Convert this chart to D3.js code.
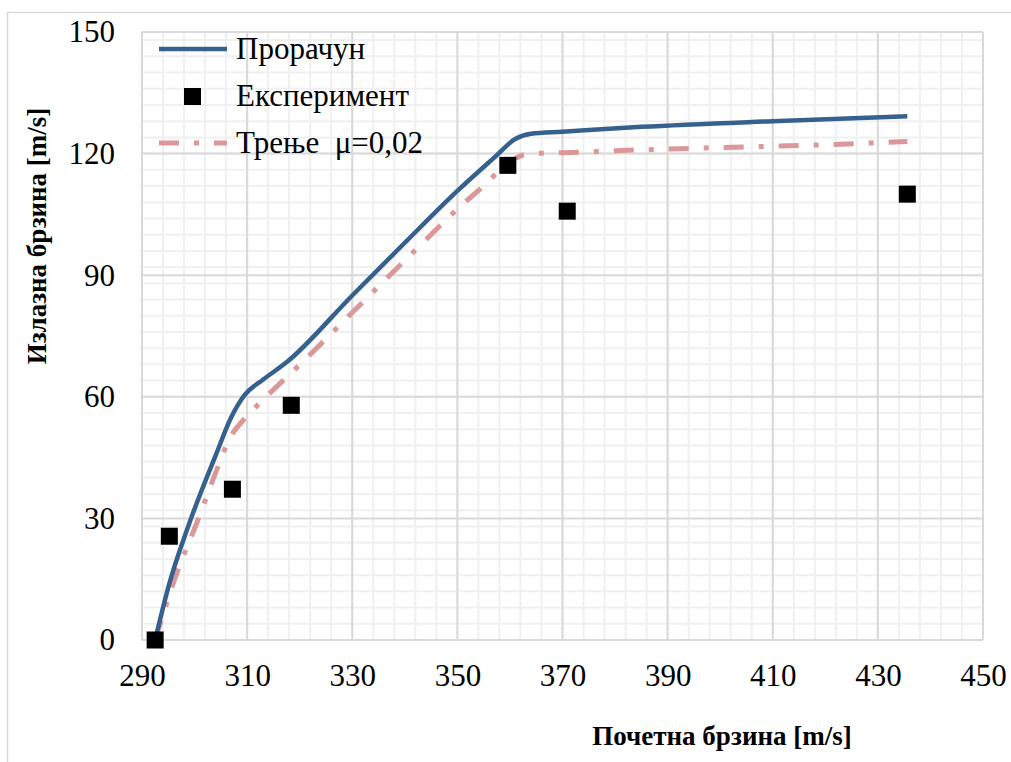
<!DOCTYPE html>
<meta charset="utf-8">
<style>
  body { margin: 0; background: #fff; }
</style>
<svg width="1011" height="762"></svg>
<script src="https://d3js.org/d3.v7.min.js"></script>
<script>
// calculated curve (Прорачун)
var calcX = [292.5, 295, 299, 304, 307, 309.5, 313, 317.5, 330, 340, 350, 357, 361, 364, 370, 385, 410, 435.6]
var calcY = [0, 13, 28.8, 45.5, 55, 60.4, 64.2, 68.5, 85, 98, 110.8, 119, 123.6, 124.9, 125.4, 126.6, 128, 129.2]

// friction curve (Трење μ=0,02)
var fricX = [292.5, 296.6, 300.4, 304.2, 306.7, 309.3, 312, 317, 320, 330, 340, 350.5, 355.3, 359, 363, 366, 370, 380, 400, 420, 435.6]
var fricY = [0, 16.4, 28.8, 41.9, 49.8, 54.3, 58, 64.2, 67.9, 80.8, 93.6, 106.9, 112.4, 117, 119.8, 120.1, 120.2, 120.7, 121.5, 122.2, 123]

// experiment (Експеримент)
var expX = [292.5, 295.2, 307.2, 318.4, 359.6, 370.9, 435.6]
var expY = [0, 25.6, 37.2, 57.9, 117.1, 105.8, 110]

var xTicks = [290, 310, 330, 350, 370, 390, 410, 430, 450]
var yTicks = [0, 30, 60, 90, 120, 150]

var serif = 'Liberation Serif'
var svg = d3.select('svg')

// outer chart border
svg.append('rect')
  .attr('x', 7.5).attr('y', 12.5)
  .attr('width', 1010).attr('height', 760)
  .attr('fill', 'none').attr('stroke', '#d9d9d9').attr('stroke-width', 1.5)

var x = d3.scaleLinear().domain([290, 450]).range([142, 983])
var y = d3.scaleLinear().domain([0, 150]).range([640, 32])

var grid = svg.append('g')

// minor grid, every 4 units
grid.selectAll('.mx').data(d3.range(294, 450, 4)).enter().append('line')
  .attr('x1', d => x(d)).attr('x2', d => x(d))
  .attr('y1', y(0)).attr('y2', y(150))
  .attr('stroke', '#f0f0f0').attr('stroke-width', 2)
grid.selectAll('.my').data(d3.range(4, 150, 4)).enter().append('line')
  .attr('y1', d => y(d)).attr('y2', d => y(d))
  .attr('x1', x(290)).attr('x2', x(450))
  .attr('stroke', '#f0f0f0').attr('stroke-width', 2)

// major grid
grid.selectAll('.Mx').data(xTicks).enter().append('line')
  .attr('x1', d => x(d)).attr('x2', d => x(d))
  .attr('y1', y(0)).attr('y2', y(150))
  .attr('stroke', '#d9d9d9').attr('stroke-width', 2)
grid.selectAll('.My').data(yTicks).enter().append('line')
  .attr('y1', d => y(d)).attr('y2', d => y(d))
  .attr('x1', x(290)).attr('x2', x(450))
  .attr('stroke', '#d9d9d9').attr('stroke-width', 2)

// axes labels
svg.append('g').attr('transform', 'translate(0,' + y(0) + ')')
  .call(d3.axisBottom(x).tickValues(xTicks).tickSize(0).tickPadding(24))
svg.append('g').attr('transform', 'translate(' + x(290) + ',0)')
  .call(d3.axisLeft(y).tickValues(yTicks).tickSize(0).tickPadding(27))
svg.selectAll('.domain').remove()
svg.selectAll('.tick text')
  .attr('font-family', null)
  .style('font-family', serif)
  .style('font-size', '31px').attr('fill', '#000')

var line = d3.line().curve(d3.curveMonotoneX)
  .x(d => x(d[0])).y(d => y(d[1]))

svg.append('path')
  .datum(fricX.map((v, i) => [v, fricY[i]]))
  .attr('d', line)
  .attr('fill', 'none').attr('stroke', '#dc9898').attr('stroke-width', 5)
  .attr('stroke-dasharray', '20,15,5,15')

svg.append('path')
  .datum(calcX.map((v, i) => [v, calcY[i]]))
  .attr('d', line)
  .attr('fill', 'none').attr('stroke', '#36618f').attr('stroke-width', 4.5)

svg.selectAll('.pt').data(expX.map((v, i) => [v, expY[i]])).enter().append('rect')
  .attr('x', d => x(d[0]) - 8.5).attr('y', d => y(d[1]) - 8.5)
  .attr('width', 17).attr('height', 17).attr('fill', '#000')

// legend
var legend = svg.append('g')
legend.append('line').attr('x1', 159).attr('x2', 227).attr('y1', 49).attr('y2', 49)
  .attr('stroke', '#36618f').attr('stroke-width', 4.5)
legend.append('rect').attr('x', 184).attr('y', 88).attr('width', 17).attr('height', 17).attr('fill', '#000')
legend.append('line').attr('x1', 159).attr('x2', 227).attr('y1', 143).attr('y2', 143)
  .attr('stroke', '#dc9898').attr('stroke-width', 5).attr('stroke-dasharray', '20,15,5,15')
var labels = ['Прорачун', 'Експеримент', 'Трење  μ=0,02']
legend.selectAll('.lt').data(labels).enter().append('text')
  .attr('x', 236).attr('y', (d, i) => 59 + i * 47)
  .style('font-family', serif).style('font-size', '31px')
  .style('white-space', 'pre')
  .text(d => d)

// axis titles
svg.append('text')
  .attr('x', 722).attr('y', 745)
  .attr('text-anchor', 'middle')
  .style('font-family', serif).style('font-size', '27px').style('font-weight', 'bold')
  .text('Почетна брзина [m/s]')
svg.append('text')
  .attr('transform', 'translate(46,236) rotate(-90)')
  .attr('text-anchor', 'middle')
  .style('font-family', serif).style('font-size', '27px').style('font-weight', 'bold')
  .text('Излазна брзина [m/s]')
</script>
